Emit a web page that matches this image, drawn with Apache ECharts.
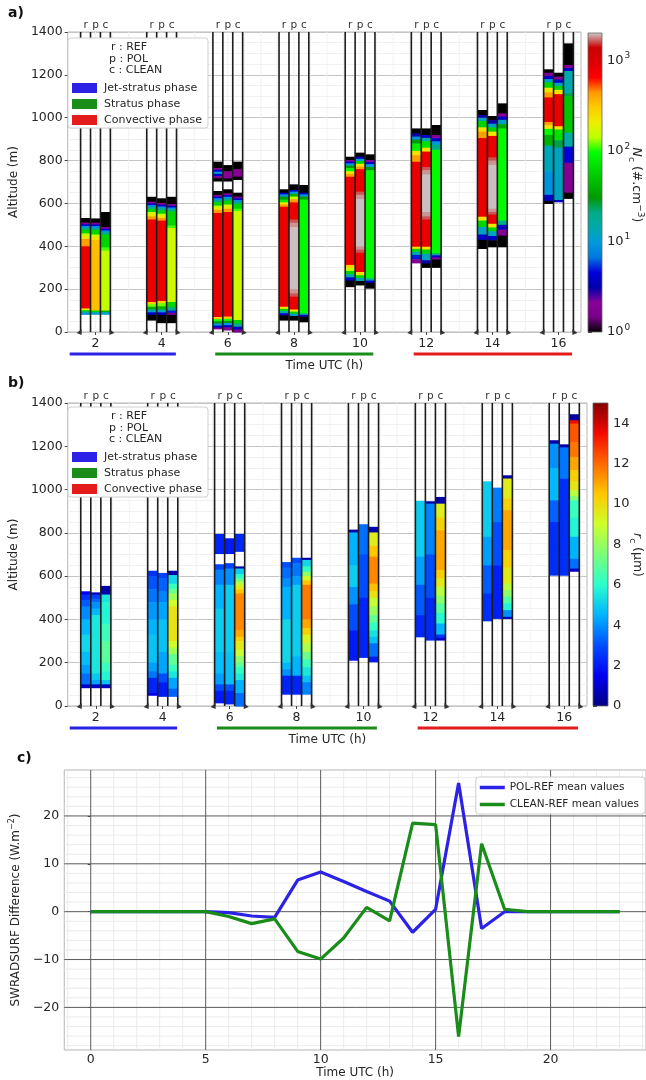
<!DOCTYPE html>
<html>
<head>
<meta charset="utf-8">
<script src="https://cdn.jsdelivr.net/npm/echarts@6.0.0/dist/echarts.min.js"></script>
<style>
  html, body { margin: 0; padding: 0; background: #fff; }
  #chart { width: 646px; height: 1080px; }
</style>
</head>
<body>
<div id="chart"></div>
<script>
// ---------------------------------------------------------------------------
// Data
// ---------------------------------------------------------------------------
const hours = [2, 4, 6, 8, 10, 12, 14, 16];
const hourTicks = [2, 4, 6, 8, 10, 12, 14, 16];
const runLabels = ['r', 'p', 'c'];
const runOffsets = [-0.3, 0, 0.3];

// Cloud droplet number concentration profiles, one list per hour:
// [base altitude (m), top altitude (m), Nc (#/cm3)]
const ncREF = [
  [[511,532,1],[503,511,1.8],[495,503,4],[487,495,9],[478,487,20],[460,478,60],[448,460,150],[434,448,230],[400,434,420],[110,400,800],[102,110,230],[95,102,60],[88,95,15],[83,88,8]],
  [[608,631,1],[600,608,2],[592,600,4],[584,592,9],[575,584,20],[560,575,60],[550,560,150],[540,550,230],[525,540,420],[140,525,800],[130,140,300],[118,130,120],[105,118,40],[92,105,12],[80,92,4],[56,80,1]],
  [[765,795,1],[757,765,2],[748,757,4],[738,748,10],[728,738,4],[718,728,1.8],[705,718,1],
   [640,658,1],[632,640,2],[624,632,4],[616,624,9],[606,616,20],[590,606,60],[580,590,150],[570,580,230],[555,570,420],[70,555,800],[60,70,300],[50,60,100],[40,50,30],[30,40,10],[20,30,4],[15,20,1.8]],
  [[650,666,1],[642,650,4],[632,642,10],[618,632,30],[605,618,80],[595,605,230],[585,595,420],[118,585,800],[108,118,230],[98,108,60],[88,98,15],[78,88,4],[56,78,1]],
  [[803,818,1],[795,803,2],[787,795,4],[777,787,10],[765,777,30],[750,765,90],[738,750,230],[725,738,420],[313,725,800],[300,313,300],[285,300,150],[270,285,60],[255,270,15],[240,255,4],[212,240,1]],
  [[927,950,1],[912,927,3],[898,912,9],[880,898,30],[845,880,80],[825,845,230],[795,825,420],[398,795,800],[388,398,230],[375,388,60],[360,375,15],[340,360,5],[323,340,2]],
  [[1013,1036,1],[1000,1013,3],[985,1000,12],[955,985,60],[935,955,230],[905,935,420],[538,905,800],[520,538,230],[490,520,60],[455,490,12],[430,455,4],[390,430,1]],
  [[1210,1226,1],[1195,1210,2],[1180,1195,4],[1165,1180,12],[1140,1165,60],[1118,1140,230],[1095,1118,420],[980,1095,800],[965,980,420],[948,965,230],[920,948,90],[870,920,40],[750,870,13],[640,750,9],[612,640,4],[600,612,1]]
];
const ncPOL = [
  [[510,530,1],[502,510,2],[494,502,4],[486,494,9],[476,486,20],[455,476,60],[443,455,150],[430,443,230],[100,430,330],[93,100,60],[83,93,12]],
  [[602,624,1],[594,602,2],[586,594,4],[578,586,9],[568,578,20],[552,568,60],[542,552,150],[532,542,230],[520,532,420],[145,520,800],[135,145,300],[120,135,120],[105,120,40],[92,105,12],[80,92,4],[44,80,1]],
  [[750,779,1],[717,750,2.1],[705,717,1],
   [647,666,1],[639,647,2],[631,639,4],[623,631,9],[613,623,20],[595,613,60],[585,595,150],[575,585,230],[560,575,420],[72,560,800],[62,72,300],[52,62,100],[42,52,30],[32,42,10],[22,32,4],[10,22,1.8]],
  [[663,689,1],[655,663,4],[645,655,10],[632,645,40],[620,632,150],[605,620,420],[525,605,800],[510,525,1600],[490,510,1800],[200,490,1950],[180,200,1800],[165,180,1600],[105,165,800],[95,105,230],[85,95,60],[75,85,10],[56,75,1]],
  [[818,837,1],[808,818,4],[798,808,12],[785,798,60],[772,785,230],[760,772,420],[655,760,800],[640,655,1600],[620,640,1800],[400,620,1950],[385,400,1800],[370,385,1600],[280,370,800],[265,280,230],[252,265,60],[238,252,12],[220,238,1]],
  [[919,950,1],[906,919,4],[890,906,15],[860,890,70],[842,860,230],[770,842,800],[755,770,1600],[735,755,1800],[560,735,1950],[540,560,1800],[525,540,1600],[398,525,800],[385,398,230],[365,385,60],[335,365,12],[320,335,3],[302,320,1]],
  [[989,1008,1],[972,989,3],[955,972,12],[935,955,60],[915,935,230],[815,915,800],[800,815,1600],[780,800,1800],[575,780,1950],[560,575,1800],[548,560,1600],[505,548,800],[488,505,230],[470,488,60],[448,470,12],[428,448,4],[398,428,1]],
  [[1192,1210,1],[1178,1192,2],[1163,1178,4],[1148,1163,12],[1130,1148,60],[1110,1130,230],[960,1110,800],[945,960,230],[895,945,70],[860,895,25],[616,860,12],[608,616,4]]
];
const ncCLEAN = [
  [[490,560,1],[482,490,2],[474,482,4],[466,474,9],[455,466,20],[395,455,60],[380,395,110],[100,380,150],[93,100,40],[83,93,12]],
  [[597,631,1],[589,597,2],[581,589,4],[573,581,9],[563,573,20],[497,563,60],[485,497,110],[140,485,160],[115,140,60],[100,115,20],[90,100,5],[80,90,1.8],[44,80,1]],
  [[760,795,1],[725,760,2.1],[712,725,1],
   [632,650,1],[624,632,2],[616,624,4],[608,616,9],[598,608,20],[575,598,60],[565,575,110],[56,565,160],[40,56,60],[25,40,20],[12,25,4],[0,12,1.8]],
  [[650,686,1],[642,650,4],[632,642,10],[618,632,30],[87,618,90],[80,87,15],[72,80,4],[48,72,1]],
  [[803,829,1],[793,803,2],[783,793,4],[770,783,10],[755,770,30],[250,755,90],[240,250,15],[230,240,4],[205,230,1]],
  [[919,966,1],[905,919,2],[890,905,4],[875,890,9],[850,875,20],[367,850,90],[358,367,20],[348,358,4],[338,348,2],[302,338,1]],
  [[1020,1067,1],[1005,1020,2],[990,1005,4],[970,990,12],[950,970,35],[520,950,90],[500,520,20],[478,500,4],[450,478,2],[398,450,1]],
  [[1246,1347,1],[1232,1246,2],[1218,1232,4],[1114,1218,14],[1100,1114,25],[930,1100,50],[865,930,15],[790,865,4.5],[650,790,1.9],[624,650,1]]
];

// Cloud droplet effective radius profiles: [base (m), top (m), rc (um)]
const rcREF = [
  [[515,530,1.5],[490,515,2.5],[460,490,3.2],[400,460,3.9],[330,400,4.6],[250,330,5.2],[190,250,4.7],[150,190,4.2],[100,150,3.5],[85,100,1]],
  [[600,625,2.5],[540,600,3.1],[480,540,3.6],[400,480,4.1],[330,400,4.5],[200,330,4.8],[160,200,4.2],[130,160,3.6],[60,130,2.2],[50,60,1.5]],
  [[705,795,2.2],[630,655,2.8],[560,630,3.8],[450,560,4.5],[250,450,5],[150,250,4.7],[100,150,4.2],[70,100,3],[15,70,2]],
  [[640,665,3],[590,640,3.5],[550,590,4],[400,550,4.5],[200,400,5.2],[170,200,4.6],[140,170,4],[55,140,2.2]],
  [[802,815,0.6],[650,802,4.5],[550,650,5],[470,550,4],[350,470,3],[212,350,2]],
  [[690,948,5],[560,690,4.2],[420,560,3.2],[320,420,2.3]],
  [[782,1038,5],[650,782,4.2],[520,650,3.2],[394,520,2.4]],
  [[1212,1228,0.6],[1100,1212,4],[950,1100,4.6],[850,950,3.3],[605,850,2.4]]
];
const rcPOL = [
  [[515,525,0.8],[495,515,2.8],[480,495,3.4],[450,480,4],[420,450,4.6],[150,420,5.5],[120,150,4.9],[100,120,4.3],[85,100,1]],
  [[590,615,2.8],[530,590,3.3],[480,530,3.8],[400,480,4.3],[250,400,4.8],[150,250,4.3],[110,150,3],[45,110,2]],
  [[705,775,2],[635,660,2.8],[560,635,4],[250,560,5],[100,250,4.8],[70,100,3],[10,70,2.2]],
  [[660,685,3],[600,660,3.6],[560,600,4.2],[230,560,5],[140,230,4.5],[55,140,2.2]],
  [[700,840,3.5],[500,700,3],[225,500,2.2]],
  [[935,946,0.6],[700,935,3.8],[500,700,3],[305,500,2.3]],
  [[850,1009,3.7],[650,850,3],[405,650,2.1]],
  [[1195,1209,0.6],[1050,1195,3.6],[605,1050,2.4]]
];
const rcCLEAN = [
  [[515,555,0.6],[480,515,5.5],[380,480,5.8],[300,380,6.4],[200,300,6.9],[160,200,6.3],[120,160,5.8],[100,120,4.8],[85,100,1]],
  [[605,625,0.6],[565,605,5.2],[540,565,6.3],[520,540,7.2],[490,520,8.2],[460,490,9],[300,460,9.8],[270,300,9],[240,270,8.2],[190,240,7],[160,190,6.2],[130,160,5.5],[80,130,4.3],[45,80,3.3]],
  [[715,795,2.3],[635,645,0.6],[610,635,5],[590,610,6],[575,590,7.3],[560,575,8.5],[540,560,9.5],[520,540,10.5],[350,520,11.5],[320,350,11],[300,320,10.3],[260,300,9.6],[230,260,8.8],[200,230,7.8],[180,200,7],[150,180,6.2],[120,150,5.6],[60,120,4.5],[0,60,3.5]],
  [[675,685,0.6],[645,675,5.2],[620,645,6.2],[600,620,7.8],[580,600,9.2],[560,580,10.5],[400,560,11.7],[360,400,11],[330,360,10.2],[290,330,9.3],[250,290,8.4],[215,250,7.2],[180,215,6.3],[140,180,5.5],[110,140,4.8],[55,110,3.8]],
  [[802,828,0.6],[740,802,9.5],[690,740,10.5],[566,690,11.5],[530,566,10.6],[500,530,9.8],[460,500,8.8],[420,460,8],[385,420,7],[350,385,6.2],[320,350,5.4],[290,320,4.8],[228,290,3.5],[205,228,2]],
  [[935,966,0.5],[870,935,9.5],[812,870,10.2],[628,812,11],[590,628,10.3],[550,590,9.6],[510,550,8.6],[474,510,7.8],[430,474,6.8],[381,430,5.9],[330,381,4.5],[315,330,2.5],[305,315,1]],
  [[1051,1066,0.5],[960,1051,9.5],[905,960,10.2],[720,905,11],[640,720,10.2],[566,640,9.6],[535,566,8.6],[505,535,7.8],[475,505,6.8],[443,475,5.8],[412,443,4],[405,412,1]],
  [[1320,1348,0.5],[1305,1320,13.5],[1220,1305,12.3],[1151,1220,11.8],[1090,1151,11],[1040,1090,10.3],[997,1040,9.7],[970,997,8.6],[950,970,7.6],[870,950,6.3],[782,870,5.8],[680,782,4.5],[635,680,3.5],[623,635,1]]
];

// Phases of the fog/cloud life cycle, in hours UTC
const phaseNames = ['Jet-stratus phase', 'Stratus phase', 'Convective phase'];
const phaseStart = [1.22, 5.62, 11.62];
const phaseEnd = [4.43, 10.4, 16.41];
const phaseColors = ['#2b22e6', '#1a8c1a', '#e41b1b'];

// Surface shortwave radiation differences (W/m2), hourly
const diffHours = [0,1,2,3,4,5,6,7,8,9,10,11,12,13,14,15,16,17,18,19,20,21,22,23];
const polRef   = [0,0,0,0,0,0,-0.2,-0.9,-1.2,6.6,8.3,6.3,4.2,2.2,-4.3,0.5,26.9,-3.5,0,0,0,0,0,0];
const cleanRef = [0,0,0,0,0,0,-1.0,-2.5,-1.5,-8.3,-9.9,-5.5,0.9,-1.9,18.5,18.2,-26.1,14.2,0.5,0,0,0,0,0];
const diffXTicks = [0, 5, 10, 15, 20];
const diffYTicks = [-20, -10, 0, 10, 20];

// Colour-bar ticks
const ncDecades = [0, 1, 2, 3];
const rcTicks = [0, 2, 4, 6, 8, 10, 12, 14];

// ---------------------------------------------------------------------------
// Colour maps
// ---------------------------------------------------------------------------
const NIPY = ['#000000','#770088','#880099','#0000aa','#0000dd','#0077dd','#0099dd','#00aaaa',
  '#00aa88','#009900','#00bb00','#00dd00','#00ff00','#bbff00','#eeee00','#ffcc00','#ff9900',
  '#ff0000','#dd0000','#cc0000','#cccccc'];
const JET = ['#000080','#0000f1','#004dff','#00b3ff','#29ffce','#7bff7b','#ceff29','#ffc700',
  '#ff6800','#f30900','#800000'];
const NC_MAX = 2000;
const NC_LOG_MAX = Math.log10(NC_MAX);
const RC_MAX = 15;

const FONT = '"DejaVu Sans", "Liberation Sans", sans-serif';
const TXT = '#262626';
const COL_HALF = 0.15;
const TOP_Z = 100;

// ---------------------------------------------------------------------------
// Helpers
// ---------------------------------------------------------------------------
function columnItems(runs, toValue) {
  const items = [];
  runs.forEach((profiles, k) => {
    profiles.forEach((segments, i) => {
      segments.forEach(s => items.push([hours[i] + runOffsets[k], s[0], s[1], toValue(s[2])]));
    });
  });
  return items;
}

function columnRect(params, api) {
  const x = api.value(0);
  const tl = api.coord([x - COL_HALF, api.value(2)]);
  const br = api.coord([x + COL_HALF, api.value(1)]);
  return {
    type: 'rect',
    shape: { x: tl[0], y: tl[1], width: br[0] - tl[0], height: br[1] - tl[1] + 0.6 },
    style: { fill: api.visual('color') }
  };
}

function groupFrame(topAlt) {
  return function (params, api) {
    const h = api.value(0);
    const children = [];
    [-0.45, -0.15, 0.15, 0.45].forEach(e => {
      const t = api.coord([h + e, topAlt]);
      const b = api.coord([h + e, 0]);
      children.push({ type: 'line', shape: { x1: t[0], y1: t[1], x2: b[0], y2: b[1] },
        style: { stroke: '#1c1c1c', lineWidth: 1.6 } });
    });
    const l = api.coord([h - 0.45, 0]);
    const r = api.coord([h + 0.45, 0]);
    children.push({ type: 'polygon', shape: { points: [[l[0] - 4, l[1] + 1], [l[0] + 1, l[1] - 3], [l[0] + 1, l[1] + 3]] },
      style: { fill: '#333' } });
    children.push({ type: 'polygon', shape: { points: [[r[0] + 4, r[1] + 1], [r[0] - 1, r[1] - 3], [r[0] - 1, r[1] + 3]] },
      style: { fill: '#333' } });
    runLabels.forEach((t, k) => {
      const p = api.coord([h + runOffsets[k], topAlt]);
      children.push({ type: 'text', style: { text: t, x: p[0], y: p[1] - 1, textAlign: 'center',
        textVerticalAlign: 'bottom', font: '10.5px ' + FONT, fill: '#333' } });
    });
    return { type: 'group', children };
  };
}

function phaseBar(params, api) {
  const a = api.coord([api.value(0), 0]);
  const b = api.coord([api.value(1), 0]);
  const y = a[1] + 22;
  return { type: 'line', shape: { x1: a[0], y1: y, x2: b[0], y2: y },
    style: { stroke: phaseColors[params.dataIndex], lineWidth: 3 } };
}

function colorBar(stops) {
  const grad = stops.map((c, i) => ({ offset: i / (stops.length - 1), color: c }));
  return function (params, api) {
    const tl = api.coord([0, api.value(1)]);
    const br = api.coord([1, api.value(0)]);
    return { type: 'rect', shape: { x: tl[0], y: tl[1], width: br[0] - tl[0], height: br[1] - tl[1] },
      style: { fill: new echarts.graphic.LinearGradient(0, 1, 0, 0, grad), stroke: '#666', lineWidth: 0.8 } };
  };
}

// Grid lines drawn as marks: item = [value, 0 vertical / 1 horizontal, 1 major / 0 minor]
function gridLineWith(majorColor, minorColor) {
  return function (params, api) {
    const cs = params.coordSys;
    const v = api.value(0);
    const major = api.value(2) === 1;
    const style = { stroke: major ? majorColor : minorColor, lineWidth: major ? 1 : 0.8 };
    if (api.value(1) === 0) {
      const p = api.coord([v, api.value(3)]);
      return { type: 'line', shape: { x1: p[0], y1: cs.y, x2: p[0], y2: cs.y + cs.height }, style };
    }
    const p = api.coord([api.value(3), v]);
    return { type: 'line', shape: { x1: cs.x, y1: p[1], x2: cs.x + cs.width, y2: p[1] }, style };
  };
}

// Legend box of the profile panels (run letters and phase colours)
function legendBox(top) {
  const font = '11px ' + FONT;
  const els = [
    { type: 'rect', z: TOP_Z, shape: { x: 68, y: top, width: 140, height: 90, r: 3 },
      style: { fill: '#ffffff', stroke: '#cfcfcf', lineWidth: 1 } },
    { type: 'text', z: TOP_Z + 1, style: { text: 'r : REF', x: 111, y: top + 9, textVerticalAlign: 'middle', font, fill: TXT } },
    { type: 'text', z: TOP_Z + 1, style: { text: 'p : POL', x: 109, y: top + 21, textVerticalAlign: 'middle', font, fill: TXT } },
    { type: 'text', z: TOP_Z + 1, style: { text: 'c : CLEAN', x: 109, y: top + 32, textVerticalAlign: 'middle', font, fill: TXT } }
  ];
  phaseNames.forEach((n, i) => {
    const y = top + 50 + i * 16;
    els.push({ type: 'rect', z: TOP_Z + 1, shape: { x: 72, y: y - 5, width: 25, height: 10 }, style: { fill: phaseColors[i] } });
    els.push({ type: 'text', z: TOP_Z + 1, style: { text: n, x: 104, y: y, textVerticalAlign: 'middle', font, fill: TXT } });
  });
  return els;
}

const supRich = {
  s: { fontSize: 9, verticalAlign: 'top', lineHeight: 18, fontFamily: FONT, color: TXT, padding: [0, 0, 0, 1] }
};

// ---------------------------------------------------------------------------
// Chart
// ---------------------------------------------------------------------------
const chart = echarts.init(document.getElementById('chart'), null, { renderer: 'canvas' });

function profileXAxis(grid) {
  return {
    type: 'value', gridIndex: grid, min: 1.16, max: 16.68,
    name: 'Time UTC (h)', nameLocation: 'middle', nameGap: 28,
    nameTextStyle: { fontSize: 12, fontFamily: FONT, color: TXT },
    axisLine: { show: false },
    axisTick: { show: true, customValues: hourTicks, length: 3, lineStyle: { color: '#444' } },
    axisLabel: { customValues: hourTicks, fontSize: 12.5, fontFamily: FONT, color: TXT, margin: 5 },
    splitLine: { show: false }
  };
}
function profileYAxis(grid) {
  return {
    type: 'value', gridIndex: grid, min: 0, max: 1400, interval: 200,
    name: 'Altitude (m)', nameLocation: 'middle', nameGap: 42,
    nameTextStyle: { fontSize: 12, fontFamily: FONT, color: TXT },
    axisLine: { show: false },
    axisTick: { show: true, length: 3, lineStyle: { color: '#444' } },
    axisLabel: { fontSize: 12.5, fontFamily: FONT, color: TXT, margin: 5, formatter: v => String(v) },
    splitLine: { show: true, lineStyle: { color: '#c4c4c4', width: 1 } },
    minorTick: { show: false, splitNumber: 4 },
    minorSplitLine: { show: true, lineStyle: { color: '#eeeeee', width: 0.8 } }
  };
}
function hiddenAxis(grid) {
  return { type: 'value', gridIndex: grid, min: 0, max: 1, show: false };
}

// Panel c grid: majors at the tick values, minors every hour / every 2 W m-2
const minorX = [];
for (let h = -1; h <= 24; h++) if (h % 5 !== 0) minorX.push([h, 0, 0, 0]);
const minorY = [];
for (let v = -28; v <= 28; v += 2) if (v % 10 !== 0) minorY.push([v, 1, 0, 0]);
const diffGrid = minorX.concat(minorY)
  .concat(diffXTicks.map(v => [v, 0, 1, 0]))
  .concat(diffYTicks.map(v => [v, 1, 1, 0]));

// Profile panels: faint vertical minor lines every half hour
const profileMinorX = [];
for (let h = 1.5; h <= 16.5; h += 0.5) profileMinorX.push([h, 0, 0, 100]);

const option = {
  animation: false,
  backgroundColor: '#ffffff',
  textStyle: { fontFamily: FONT },
  grid: [
    { left: 63, top: 32, width: 518, height: 300, show: true, borderColor: '#b5b5b5', borderWidth: 1 },
    { left: 588, top: 33, width: 14, height: 299 },
    { left: 63, top: 403, width: 524, height: 303, show: true, borderColor: '#b5b5b5', borderWidth: 1 },
    { left: 593, top: 403, width: 15, height: 303 },
    { left: 58, top: 770, width: 588, height: 280, show: true, borderColor: '#b5b5b5', borderWidth: 1 }
  ],
  xAxis: [
    profileXAxis(0),
    hiddenAxis(1),
    profileXAxis(2),
    hiddenAxis(3),
    {
      type: 'value', gridIndex: 4, min: -1.15, max: 24.15,
      name: 'Time UTC (h)', nameLocation: 'middle', nameGap: 14,
      nameTextStyle: { fontSize: 12, fontFamily: FONT, color: TXT },
      axisLine: { show: false },
      axisTick: { show: true, customValues: diffXTicks, length: 3, lineStyle: { color: '#444' } },
      axisLabel: { customValues: diffXTicks, fontSize: 12.5, fontFamily: FONT, color: TXT, margin: 3 },
      splitLine: { show: false }
    }
  ],
  yAxis: [
    profileYAxis(0),
    {
      type: 'value', gridIndex: 1, min: 0, max: NC_LOG_MAX, position: 'right',
      axisLine: { show: false },
      axisTick: { show: true, customValues: ncDecades, length: 4, lineStyle: { color: '#333' } },
      axisLabel: { customValues: ncDecades, margin: 5, fontSize: 13, fontFamily: FONT, color: TXT,
        formatter: v => '10{s|' + v + '}', rich: supRich },
      splitLine: { show: false }
    },
    profileYAxis(2),
    {
      type: 'value', gridIndex: 3, min: 0, max: RC_MAX, position: 'right',
      axisLine: { show: false },
      axisTick: { show: true, customValues: rcTicks, length: 4, lineStyle: { color: '#333' } },
      axisLabel: { customValues: rcTicks, margin: 5, fontSize: 13, fontFamily: FONT, color: TXT },
      splitLine: { show: false }
    },
    {
      type: 'value', gridIndex: 4, min: -28.9, max: 29.6,
      name: 'SWRADSURF Difference (W.m{s|−2})', nameLocation: 'middle', nameGap: 31,
      nameTextStyle: { fontSize: 12, fontFamily: FONT, color: TXT, rich: { s: { fontSize: 8, verticalAlign: 'top', lineHeight: 16, color: TXT, fontFamily: FONT } } },
      axisLine: { show: false },
      axisTick: { show: true, customValues: diffYTicks, length: 3, lineStyle: { color: '#444' } },
      axisLabel: { customValues: diffYTicks, fontSize: 12.5, fontFamily: FONT, color: TXT, margin: 5,
        formatter: v => String(v).replace('-', '−') },
      splitLine: { show: false }
    }
  ],
  visualMap: [
    { type: 'continuous', show: false, seriesIndex: 0, dimension: 3, min: 0, max: NC_LOG_MAX, inRange: { color: NIPY } },
    { type: 'continuous', show: false, seriesIndex: 4, dimension: 3, min: 0, max: RC_MAX, inRange: { color: JET } }
  ],
  legend: {
    data: ['POL-REF mean values', 'CLEAN-REF mean values'],
    orient: 'vertical', right: 1, top: 777,
    icon: 'rect', itemWidth: 25, itemHeight: 3.5, itemGap: 6,
    textStyle: { fontSize: 10.5, fontFamily: FONT, color: TXT },
    backgroundColor: 'rgba(255,255,255,0.9)', borderColor: '#cccccc', borderWidth: 1, borderRadius: 3,
    padding: [5, 6, 4, 4]
  },
  series: [
    { type: 'custom', name: 'Nc', xAxisIndex: 0, yAxisIndex: 0, renderItem: columnRect, clip: false, z: 2,
      encode: { x: 0, y: [1, 2] },
      data: columnItems([ncREF, ncPOL, ncCLEAN], v => Math.min(Math.log10(v), NC_LOG_MAX)) },
    { type: 'custom', xAxisIndex: 0, yAxisIndex: 0, renderItem: groupFrame(1400), clip: false, z: 3,
      encode: { x: 0 }, data: hours.map(h => [h]) },
    { type: 'custom', xAxisIndex: 0, yAxisIndex: 0, renderItem: phaseBar, clip: false, z: 3,
      encode: { x: [0, 1] }, data: phaseStart.map((s, i) => [s, phaseEnd[i]]) },
    { type: 'custom', xAxisIndex: 1, yAxisIndex: 1, renderItem: colorBar(NIPY), clip: false,
      encode: { y: [0, 1] }, data: [[0, NC_LOG_MAX]] },

    { type: 'custom', name: 'rc', xAxisIndex: 2, yAxisIndex: 2, renderItem: columnRect, clip: false, z: 2,
      encode: { x: 0, y: [1, 2] },
      data: columnItems([rcREF, rcPOL, rcCLEAN], v => v) },
    { type: 'custom', xAxisIndex: 2, yAxisIndex: 2, renderItem: groupFrame(1400), clip: false, z: 3,
      encode: { x: 0 }, data: hours.map(h => [h]) },
    { type: 'custom', xAxisIndex: 2, yAxisIndex: 2, renderItem: phaseBar, clip: false, z: 3,
      encode: { x: [0, 1] }, data: phaseStart.map((s, i) => [s, phaseEnd[i]]) },
    { type: 'custom', xAxisIndex: 3, yAxisIndex: 3, renderItem: colorBar(JET), clip: false,
      encode: { y: [0, 1] }, data: [[0, RC_MAX]] },

    { type: 'custom', xAxisIndex: 4, yAxisIndex: 4, renderItem: gridLineWith('#5a5a5a', '#e6e6e6'), clip: false, z: 1,
      silent: true, data: diffGrid },
    { type: 'line', name: 'POL-REF mean values', xAxisIndex: 4, yAxisIndex: 4, z: 3,
      data: diffHours.map((h, i) => [h, polRef[i]]), showSymbol: false, symbol: 'none',
      lineStyle: { color: '#2b22e6', width: 3.2 }, itemStyle: { color: '#2b22e6' } },
    { type: 'line', name: 'CLEAN-REF mean values', xAxisIndex: 4, yAxisIndex: 4, z: 4,
      data: diffHours.map((h, i) => [h, cleanRef[i]]), showSymbol: false, symbol: 'none',
      lineStyle: { color: '#1a8c1a', width: 3.2 }, itemStyle: { color: '#1a8c1a' } },

    { type: 'custom', xAxisIndex: 0, yAxisIndex: 0, renderItem: gridLineWith('#c4c4c4', '#efefef'), clip: false, z: 1,
      silent: true, data: profileMinorX },
    { type: 'custom', xAxisIndex: 2, yAxisIndex: 2, renderItem: gridLineWith('#c4c4c4', '#efefef'), clip: false, z: 1,
      silent: true, data: profileMinorX }
  ],
  graphic: {
    elements: [
      { type: 'text', z: TOP_Z, style: { text: 'a)', x: 8, y: 13, textVerticalAlign: 'middle', font: 'bold 14px ' + FONT, fill: '#111' } },
      { type: 'text', z: TOP_Z, style: { text: 'b)', x: 8, y: 383, textVerticalAlign: 'middle', font: 'bold 14px ' + FONT, fill: '#111' } },
      { type: 'text', z: TOP_Z, style: { text: 'c)', x: 17, y: 758, textVerticalAlign: 'middle', font: 'bold 14px ' + FONT, fill: '#111' } }
    ].concat(legendBox(38), legendBox(407), [
      { type: 'text', z: TOP_Z, x: 636, y: 185, rotation: -Math.PI / 2,
        style: { text: '{i|N}{b|c} (#.cm{p|−3})', textAlign: 'center', textVerticalAlign: 'middle',
          font: '12.5px ' + FONT, fill: TXT,
          rich: { i: { fontStyle: 'italic', fontSize: 12.5, fontFamily: FONT, lineHeight: 18, verticalAlign: 'middle' },
                  b: { fontSize: 9, fontFamily: FONT, verticalAlign: 'bottom', lineHeight: 18 },
                  p: { fontSize: 9, fontFamily: FONT, verticalAlign: 'top', lineHeight: 18 } } } },
      { type: 'text', z: TOP_Z, x: 637, y: 555, rotation: -Math.PI / 2,
        style: { text: '{i|r}{b|c} (µm)', textAlign: 'center', textVerticalAlign: 'middle',
          font: '12.5px ' + FONT, fill: TXT,
          rich: { i: { fontStyle: 'italic', fontSize: 12.5, fontFamily: FONT, lineHeight: 18, verticalAlign: 'middle' },
                  b: { fontSize: 9, fontFamily: FONT, verticalAlign: 'bottom', lineHeight: 18 } } } }
    ])
  }
};

chart.setOption(option);
</script>
</body>
</html>
